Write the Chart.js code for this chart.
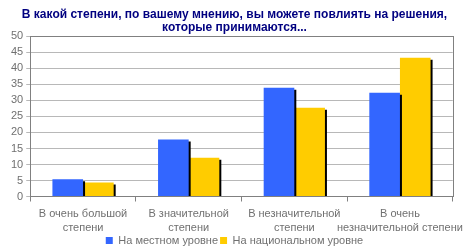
<!DOCTYPE html>
<html>
<head>
<meta charset="utf-8">
<script src="https://cdn.jsdelivr.net/npm/chart.js@4/dist/chart.umd.min.js"></script>
<style>
    html, body { margin: 0; padding: 0; background: #fff; }
    #wrap { width: 470px; height: 250px; }
</style>
</head>
<body>
<div id="wrap"><canvas id="chart"></canvas></div>
<script>
const categories = [
    ['В очень большой', 'степени'],
    ['В значительной', 'степени'],
    ['В незначительной', 'степени'],
    ['В очень', 'незначительной степени']
];
const localLevel = [5.4, 17.8, 34.0, 32.4];
const nationalLevel = [4.4, 12.1, 27.7, 43.3];
const seriesNames = ['На местном уровне', 'На национальном уровне'];
const titleLines = ['В какой степени, по вашему мнению, вы можете повлиять на решения,', 'которые принимаются...'];

// тень справа-снизу у столбиков, как в Excel
const barShadow = {
    id: 'barShadow',
    beforeDatasetsDraw(chart) {
        const ctx = chart.ctx;
        ctx.save();
        ctx.shadowColor = '#000';
        ctx.shadowOffsetX = 2;
        ctx.shadowOffsetY = 2;
        ctx.shadowBlur = 0;
    },
    afterDatasetsDraw(chart) {
        chart.ctx.restore();
    }
};

// рамка области построения
const plotFrame = {
    id: 'plotFrame',
    afterDraw(chart) {
        const a = chart.chartArea;
        const ctx = chart.ctx;
        ctx.save();
        ctx.strokeStyle = '#808080';
        ctx.lineWidth = 1;
        ctx.strokeRect(Math.round(a.left) + 0.5, Math.round(a.top) + 0.5,
            Math.round(a.right - a.left), Math.round(a.bottom - a.top));
        ctx.restore();
    }
};

Chart.defaults.font.family = '"Liberation Sans", Tahoma, sans-serif';
Chart.defaults.font.size = 11;
Chart.defaults.color = '#707070';

const ctx = document.getElementById('chart').getContext('2d');
new Chart(ctx, {
    type: 'bar',
    data: {
        labels: categories,
        datasets: [{
            label: seriesNames[0],
            data: localLevel,
            backgroundColor: '#3366FF',
            categoryPercentage: 0.58,
            barPercentage: 1.0
        }, {
            label: seriesNames[1],
            data: nationalLevel,
            backgroundColor: '#FFCC00',
            categoryPercentage: 0.58,
            barPercentage: 1.0
        }]
    },
    options: {
        responsive: true,
        maintainAspectRatio: false,
        animation: false,
        layout: { padding: { left: 8, right: 9, top: 0, bottom: -6 } },
        scales: {
            x: {
                grid: {
                    offset: true,
                    drawOnChartArea: false,
                    tickLength: 5,
                    color: '#808080'
                },
                border: { color: '#808080' },
                ticks: { maxRotation: 0, autoSkip: false, padding: 6, font: { size: 11, lineHeight: 1.25 } },
                afterFit(scale) { scale.height -= 8; }
            },
            y: {
                min: 0,
                max: 50,
                ticks: { stepSize: 5, autoSkip: false, padding: 3, font: { size: 11 } },
                grid: { color: '#b8b8b8', tickLength: 4 },
                border: { color: '#808080' }
            }
        },
        plugins: {
            title: {
                display: true,
                text: titleLines,
                color: '#000080',
                font: { size: 12, weight: 'bold', lineHeight: 1.1 },
                padding: { top: 8, bottom: 2 }
            },
            legend: {
                position: 'bottom',
                labels: {
                    boxWidth: 7,
                    boxHeight: 7,
                    padding: 2,
                    color: '#707070',
                    font: { size: 11 }
                }
            },
            tooltip: { enabled: false }
        }
    },
    plugins: [barShadow, plotFrame]
});
</script>
</body>
</html>
